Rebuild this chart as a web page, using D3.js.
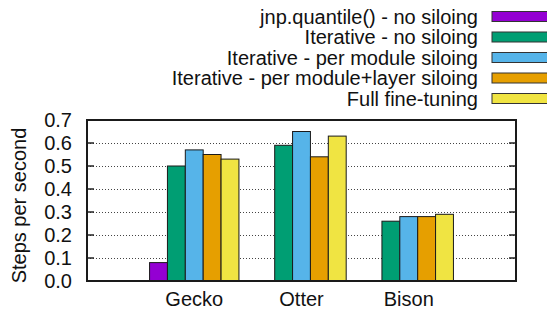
<!DOCTYPE html>
<html>
<head>
<meta charset="utf-8">
<script src="https://cdn.jsdelivr.net/npm/d3@7"></script>
<style>
  body { margin: 0; background: #fff; }
  svg { font-family: "Liberation Sans", Arial, sans-serif; }
</style>
</head>
<body>
<svg width="547" height="310"></svg>
<script>
// Chart data
var categories = ["Gecko", "Otter", "Bison"];
var seriesNames = [
  "jnp.quantile() - no siloing",
  "Iterative - no siloing",
  "Iterative - per module siloing",
  "Iterative - per module+layer siloing",
  "Full fine-tuning"
];
var seriesColors = ["#9400d3", "#009e73", "#56b4e9", "#e69f00", "#f0e442"];
var quantileVals = [0.08, null, null];
var iterNoSilo = [0.50, 0.59, 0.26];
var iterModule = [0.57, 0.65, 0.28];
var iterModuleLayer = [0.55, 0.54, 0.28];
var fullFineTune = [0.53, 0.63, 0.29];
var yTicks = [0, 0.1, 0.2, 0.3, 0.4, 0.5, 0.6, 0.7];

var allSeries = [quantileVals, iterNoSilo, iterModule, iterModuleLayer, fullFineTune];

var svg = d3.select("svg");
var plotL = 87, plotR = 516, plotT = 120, plotB = 281;
var fs = 20;

var x = d3.scaleLinear().domain([-1, 3]).range([plotL, plotR]);
var y = d3.scaleLinear().domain([0, 0.7]).range([plotB, plotT]);
var slot = 1 / 6;

// Grid lines
svg.append("g").selectAll("line")
  .data(yTicks.filter(function(t) { return t > 0 && t < 0.7; }))
  .enter().append("line")
  .attr("x1", plotL).attr("x2", plotR)
  .attr("y1", function(d) { return Math.round(y(d)) + 0.5; })
  .attr("y2", function(d) { return Math.round(y(d)) + 0.5; })
  .attr("stroke", "#444")
  .attr("stroke-width", 1)
  .attr("stroke-dasharray", "1,2");

// Bars
allSeries.forEach(function(vals, j) {
  svg.append("g").selectAll("rect")
    .data(vals.map(function(v, i) { return { v: v, i: i }; }).filter(function(d) { return d.v !== null; }))
    .enter().append("rect")
    .attr("x", function(d) { return x(d.i + (j - 2.5) * slot); })
    .attr("width", x(slot) - x(0))
    .attr("y", function(d) { return y(d.v); })
    .attr("height", function(d) { return y(0) - y(d.v); })
    .attr("fill", seriesColors[j])
    .attr("stroke", "#1a1a1a")
    .attr("stroke-width", 1);
});

// Y axis ticks (both sides) and labels
svg.append("g").selectAll("line")
  .data(yTicks)
  .enter().append("line")
  .attr("x1", plotL).attr("x2", plotL + 7)
  .attr("y1", function(d) { return y(d); })
  .attr("y2", function(d) { return y(d); })
  .attr("stroke", "#222").attr("stroke-width", 1.5);
svg.append("g").selectAll("line")
  .data(yTicks)
  .enter().append("line")
  .attr("x1", plotR - 7).attr("x2", plotR)
  .attr("y1", function(d) { return y(d); })
  .attr("y2", function(d) { return y(d); })
  .attr("stroke", "#222").attr("stroke-width", 1.5);

svg.append("g").selectAll("text")
  .data(yTicks)
  .enter().append("text")
  .attr("x", 72)
  .attr("y", function(d) { return y(d); })
  .attr("dy", "0.36em")
  .attr("text-anchor", "end")
  .attr("font-size", fs)
  .attr("fill", "#111")
  .text(function(d) { return d3.format(".1f")(d); });

// Frame
svg.append("rect")
  .attr("x", plotL).attr("y", plotT)
  .attr("width", plotR - plotL).attr("height", plotB - plotT)
  .attr("fill", "none")
  .attr("stroke", "#1a1a1a")
  .attr("stroke-width", 2);

// Category labels
svg.append("g").selectAll("text")
  .data(categories)
  .enter().append("text")
  .attr("x", function(d, i) { return x(i); })
  .attr("y", 306)
  .attr("text-anchor", "middle")
  .attr("font-size", fs)
  .attr("fill", "#111")
  .text(function(d) { return d; });

// Y axis title
svg.append("text")
  .attr("transform", "translate(26," + ((plotT + plotB) / 2 + 5) + ") rotate(-90)")
  .attr("text-anchor", "middle")
  .attr("font-size", fs)
  .attr("fill", "#111")
  .text("Steps per second");

// Legend
var legend = svg.append("g").selectAll("g")
  .data(seriesNames)
  .enter().append("g")
  .attr("transform", function(d, i) { return "translate(0," + (16.5 + i * 20.5) + ")"; });

legend.append("text")
  .attr("x", 478)
  .attr("dy", "0.36em")
  .attr("text-anchor", "end")
  .attr("font-size", fs)
  .attr("fill", "#111")
  .text(function(d) { return d; });

legend.append("rect")
  .attr("x", 492).attr("y", -5)
  .attr("width", 70).attr("height", 10)
  .attr("fill", function(d, i) { return seriesColors[i]; })
  .attr("stroke", "#333")
  .attr("stroke-width", 1);
</script>
</body>
</html>
